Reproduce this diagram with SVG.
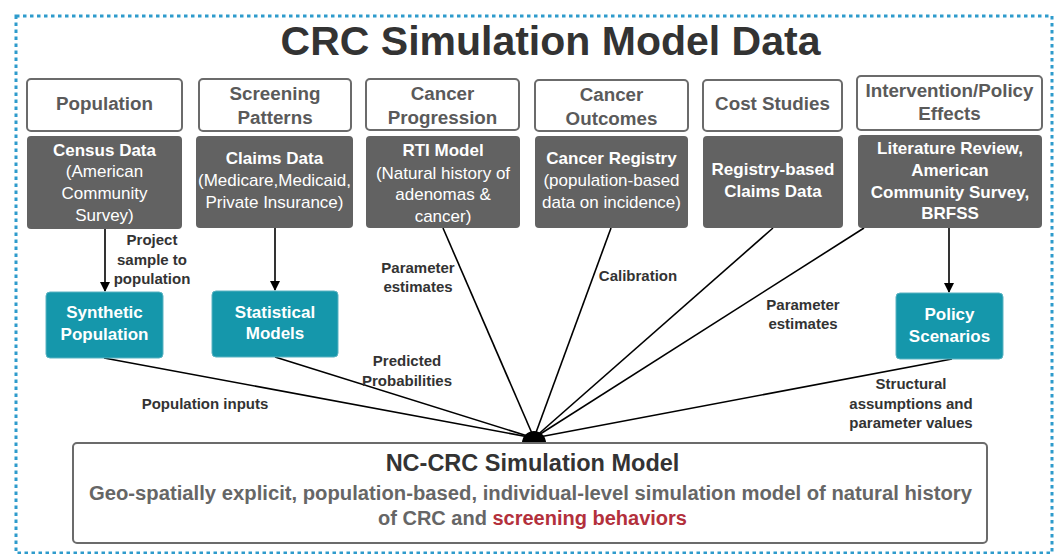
<svg xmlns="http://www.w3.org/2000/svg" width="1061" height="554" viewBox="0 0 1061 554">
<defs>
<style>
text{font-family:"Liberation Sans",Arial,sans-serif;text-anchor:middle;dominant-baseline:central}
.hdr rect{fill:#fff;stroke:#6b6b6b;stroke-width:2}
.hdr text{font-size:18.8px;font-weight:bold;fill:#5a5a5a}
.dark rect{fill:#626262}
.dark text{font-size:17px;fill:#fff}
.dark .b{font-weight:bold}
.teal rect{fill:#1597ab;stroke:#5ab3c2;stroke-width:1}
.teal text{font-size:17px;font-weight:bold;fill:#fff}
.lbl{font-size:15px;font-weight:bold;fill:#333}
.conn line{stroke:#000;stroke-width:1.6}
</style>
<marker id="ah" markerWidth="10" markerHeight="10" refX="9" refY="5" orient="auto" markerUnits="userSpaceOnUse">
<path d="M0,0 L10,5 L0,10 z" fill="#000"/>
</marker>
</defs>
<rect x="0" y="0" width="1061" height="554" fill="#fff"/>
<rect x="16" y="16" width="1036" height="537" fill="none" stroke="#2e9bcc" stroke-width="3" stroke-dasharray="3.5 3.5"/>
<text x="550.5" y="41" style="font-size:41px;font-weight:bold;fill:#333">CRC Simulation Model Data</text>

<g class="conn">
<line x1="105" y1="229" x2="105" y2="291" marker-end="url(#ah)"/>
<line x1="275" y1="228" x2="275" y2="290" marker-end="url(#ah)"/>
<line x1="949" y1="228" x2="949" y2="292" marker-end="url(#ah)"/>
<line x1="104" y1="358" x2="534" y2="438"/>
<line x1="275" y1="357" x2="534" y2="438"/>
<line x1="443" y1="228" x2="534" y2="438"/>
<line x1="611" y1="228" x2="534" y2="438"/>
<line x1="773" y1="228" x2="534" y2="438"/>
<line x1="864" y1="228" x2="534" y2="438"/>
<line x1="952" y1="359" x2="534" y2="438"/>
<path d="M522,443 A12,12 0 0 1 546,443 z" fill="#000"/>
</g>

<g id="population" class="hdr"><rect x="27" y="79" width="155" height="52" rx="4"/><text x="104.5" y="103">Population</text></g>
<g id="screening" class="hdr"><rect x="199" y="79" width="152" height="52" rx="4"/><text x="275" y="93">Screening</text><text x="275" y="117">Patterns</text></g>
<g id="progression" class="hdr"><rect x="366" y="79" width="153" height="51" rx="4"/><text x="442.5" y="93">Cancer</text><text x="442.5" y="117">Progression</text></g>
<g id="outcomes" class="hdr"><rect x="535" y="80" width="153" height="51" rx="4"/><text x="611.5" y="94">Cancer</text><text x="611.5" y="118">Outcomes</text></g>
<g id="cost" class="hdr"><rect x="703" y="80" width="139" height="51" rx="4"/><text x="772.5" y="103">Cost Studies</text></g>
<g id="intervention" class="hdr"><rect x="857" y="76" width="185" height="54" rx="4"/><text x="949.5" y="90">Intervention/Policy</text><text x="949.5" y="113">Effects</text></g>

<g id="census" class="dark"><rect x="27" y="136" width="155" height="93" rx="4"/><text class="b" x="104.5" y="150">Census Data</text><text x="104.5" y="171">(American</text><text x="104.5" y="193">Community</text><text x="104.5" y="215">Survey)</text></g>
<g id="claims" class="dark"><rect x="196" y="136" width="157" height="92" rx="4"/><text class="b" x="274.5" y="158">Claims Data</text><text x="274.5" y="180">(Medicare,Medicaid,</text><text x="274.5" y="202">Private Insurance)</text></g>
<g id="rti" class="dark"><rect x="366" y="136" width="154" height="92" rx="4"/><text class="b" x="443" y="150">RTI Model</text><text x="443" y="173">(Natural history of</text><text x="443" y="194">adenomas &amp;</text><text x="443" y="216">cancer)</text></g>
<g id="registry" class="dark"><rect x="535" y="136" width="153" height="92" rx="4"/><text class="b" x="611.5" y="158">Cancer Registry</text><text x="611.5" y="180">(population-based</text><text x="611.5" y="202">data on incidence)</text></g>
<g id="regclaims" class="dark"><rect x="703" y="136" width="140" height="92" rx="4"/><text class="b" x="773" y="169">Registry-based</text><text class="b" x="773" y="191">Claims Data</text></g>
<g id="literature" class="dark"><rect x="858" y="135" width="184" height="93" rx="4"/><text class="b" x="950" y="148">Literature Review,</text><text class="b" x="950" y="170">American</text><text class="b" x="950" y="192">Community Survey,</text><text class="b" x="950" y="213">BRFSS</text></g>

<g id="synthetic" class="teal"><rect x="46" y="292" width="117" height="66" rx="4"/><text x="104.5" y="312">Synthetic</text><text x="104.5" y="334">Population</text></g>
<g id="statistical" class="teal"><rect x="212" y="291" width="126" height="66" rx="4"/><text x="275" y="312">Statistical</text><text x="275" y="333">Models</text></g>
<g id="policy" class="teal"><rect x="896" y="293" width="107" height="66" rx="4"/><text x="949.5" y="314">Policy</text><text x="949.5" y="336">Scenarios</text></g>

<g id="labels">
<text class="lbl" x="152" y="239">Project</text><text class="lbl" x="152" y="259">sample to</text><text class="lbl" x="152" y="278">population</text>
<text class="lbl" x="205" y="403">Population inputs</text>
<text class="lbl" x="418" y="267">Parameter</text><text class="lbl" x="418" y="286">estimates</text>
<text class="lbl" x="407" y="360">Predicted</text><text class="lbl" x="407" y="380">Probabilities</text>
<text class="lbl" x="638" y="275">Calibration</text>
<text class="lbl" x="803" y="304">Parameter</text><text class="lbl" x="803" y="323">estimates</text>
<text class="lbl" x="911" y="383">Structural</text><text class="lbl" x="911" y="403">assumptions and</text><text class="lbl" x="911" y="422">parameter values</text>
</g>

<g id="ncrc">
<rect x="73" y="443" width="914" height="100" rx="4" fill="#fff" stroke="#6b6b6b" stroke-width="2"/>
<text x="532.5" y="463" style="font-size:23.5px;font-weight:bold;fill:#333">NC-CRC Simulation Model</text>
<text x="530.5" y="493" textLength="883" lengthAdjust="spacingAndGlyphs" style="font-size:20px;font-weight:bold;fill:#666">Geo-spatially explicit, population-based, individual-level simulation model of natural history</text>
<text x="532.5" y="518" style="font-size:20px;font-weight:bold;fill:#666">of CRC and <tspan fill="#b3303c">screening behaviors</tspan></text>
</g>
</svg>
